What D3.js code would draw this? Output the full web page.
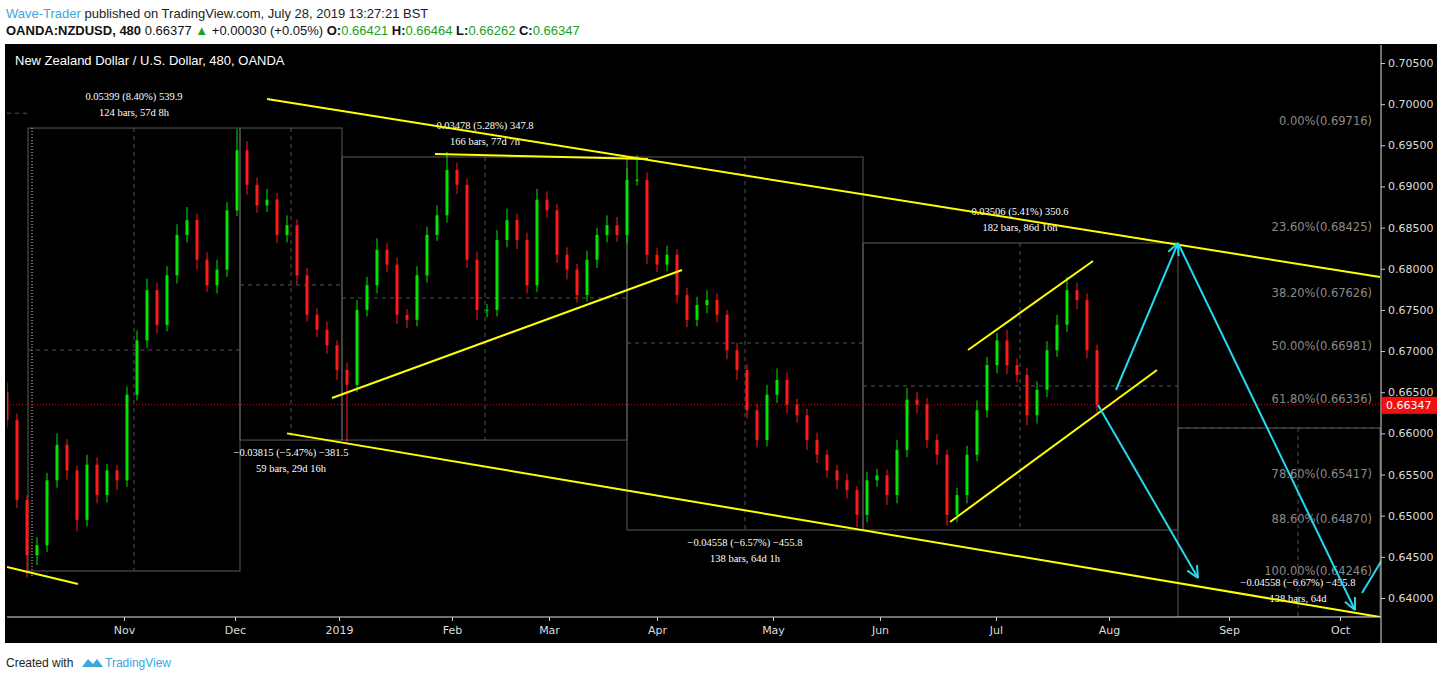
<!DOCTYPE html>
<html><head><meta charset="utf-8">
<script src="https://cdn.jsdelivr.net/npm/d3@7"></script>
<style>body{margin:0;background:#fff;}svg{display:block;}</style>
</head><body>
<svg id="c" width="1444" height="680"></svg>
<script>
// ---- data (bar index ~ one sampled candle, price) ----
const closes = [0.6616,0.6519,0.6452,0.6464,0.6543,0.6586,0.6555,0.6495,0.6562,0.6525,
0.6555,0.6543,0.6647,0.6713,0.6774,0.6732,0.6792,0.6841,0.6859,0.6811,
0.6780,0.6799,0.6871,0.6944,0.6902,0.6877,0.6884,0.6841,0.6853,0.6792,
0.6744,0.6726,0.6707,0.6677,0.6659,0.6750,0.6780,0.6823,0.6805,0.6744,
0.6738,0.6792,0.6841,0.6865,0.6920,0.6902,0.6811,0.6750,0.6750,0.6835,
0.6859,0.6835,0.6780,0.6884,0.6871,0.6817,0.6799,0.6768,0.6811,0.6841,
0.6853,0.6841,0.6908,0.6908,0.6817,0.6805,0.6817,0.6768,0.6738,0.6756,
0.6762,0.6744,0.6701,0.6677,0.6628,0.6592,0.6647,0.6665,0.6635,0.6622,
0.6592,0.6574,0.6555,0.6543,0.6531,0.6501,0.6543,0.6549,0.6525,0.6580,
0.6641,0.6635,0.6592,0.6574,0.6501,0.6525,0.6574,0.6628,0.6683,0.6713,
0.6683,0.6671,0.6622,0.6653,0.6701,0.6732,0.6774,0.6762,0.6701,0.66347];
const firstOpen = 0.6650;
const wickUp = [12,8,6,10,9,14,7,6,12,9, 8,7,10,12,14,9,11,13,16,8, 9,12,10,26,11,9,13,8,12,7,
9,8,10,6,9,12,10,14,8,9, 7,11,10,12,22,9,8,10,7,12, 14,8,9,13,10,8,9,7,11,9, 12,10,14,30,9,8,11,7,9,10,
12,8,6,9,7,8,12,14,9,7, 8,9,6,7,8,5,10,8,7,12, 14,9,8,7,6,9,11,12,10,9, 13,8,9,10,11,12,16,9,8,7];
const wickDn = [9,10,27,12,8,9,11,14,8,10, 9,12,8,7,9,11,8,10,9,12, 8,10,9,7,12,9,8,10,9,11,
8,9,10,12,70,9,8,10,9,11, 10,8,9,7,9,11,10,12,9,8, 9,11,10,8,9,10,12,9,8,10, 9,8,10,7,11,9,8,10,9,8,
10,9,11,12,10,9,8,10,11,9, 12,10,9,11,10,15,9,8,12,10, 9,11,10,12,13,9,10,8,9,10, 11,9,12,10,9,8,9,11,10,9];
const priceTicks = [0.640,0.645,0.650,0.655,0.660,0.665,0.670,0.675,0.680,0.685,0.690,0.695,0.700,0.705];
const monthLabels = ["Nov","Dec","2019","Feb","Mar","Apr","May","Jun","Jul","Aug","Sep","Oct"];
const monthIdx = [11.7,22.8,33.2,44.5,54.2,65,76.6,87.3,98.9,110.2,122.2,133.3];
const fibLabels = ["0.00%(0.69716)","23.60%(0.68425)","38.20%(0.67626)","50.00%(0.66981)","61.80%(0.66336)","78.60%(0.65417)","88.60%(0.64870)","100.00%(0.64246)"];
const fibPrices = [0.69716,0.68425,0.67626,0.66981,0.66336,0.65417,0.64870,0.64246];
const yellowLines = [[26,0.70063,137.3,0.67900],[28,0.66000,137.3,0.63769],[0,0.64376,7.1,0.64170],
 [32.5,0.66430,67.5,0.67985],[42.8,0.69394,64.1,0.69334],[96.1,0.67013,108.6,0.68094],[94.3,0.64923,115,0.66770]];
const cyanLines = [[110.9,0.66527,117.1,0.68313,1],[117.1,0.68313,134.8,0.63854,1],[109.1,0.66345,119.1,0.64243,1],[135.5,0.6406,137.5,0.64462,0]];
const boxes = [
 [2.1,23.3,0.69710,0.64328,12.7,0.67013,"0.05399 (8.40%) 539.9","124 bars, 57d 8h","top"],
 [23.3,33.5,0.69710,0.65919,28.4,0.67803,"\u22120.03815 (\u22125.47%) \u2212381.5","59 bars, 29d 16h","bottom"],
 [33.5,62,0.69358,0.65919,47.8,0.67645,"0.03478 (5.28%) 347.8","166 bars, 77d 7h","top"],
 [62,85.6,0.69358,0.64826,73.8,0.67098,"\u22120.04558 (\u22126.57%) \u2212455.8","138 bars, 64d 1h","bottom"],
 [85.6,117.1,0.68313,0.64826,101.3,0.66576,"0.03506 (5.41%) 350.6","182 bars, 86d 16h","top"],
 [117.1,137.3,0.66065,0.63769,129.1,0.66065,"\u22120.04558 (\u22126.67%) \u2212455.8","138 bars, 64d","inside"]];
const lastPrice = 0.66347;

// ---- chart ----
const svg = d3.select("#c");
const L=7, R=1381, T=45, B=617;
const x = d3.scaleLinear().domain([0,137.4]).range([L,R]);
const y = d3.scaleLinear().domain([0.640,0.705]).range([598,63]);
const SANS = "Liberation Sans";

svg.append("rect").attr("x",5).attr("y",44).attr("width",1432).attr("height",599).attr("fill","#000");
const g = svg.append("g");
g.append("clipPath").attr("id","clip").append("rect").attr("x",L).attr("y",T).attr("width",R-L).attr("height",B-T);
const plot = g.append("g").attr("clip-path","url(#clip)");

boxes.forEach(b=>{
  const x0=x(b[0]),x1=x(b[1]),y0=y(b[2]),y1=y(b[3]);
  plot.append("rect").attr("x",x0).attr("y",y0).attr("width",x1-x0).attr("height",y1-y0)
    .attr("fill","none").attr("stroke","#5a5a5a").attr("stroke-width",1);
  plot.append("line").attr("x1",x(b[4])).attr("x2",x(b[4])).attr("y1",y0).attr("y2",y1)
    .attr("stroke","#555").attr("stroke-dasharray","4,4");
  plot.append("line").attr("x1",x0).attr("x2",x1).attr("y1",y(b[5])).attr("y2",y(b[5]))
    .attr("stroke","#555").attr("stroke-dasharray","4,4");
  let ly;
  if(b[8]==="top") ly=y0-28; else if(b[8]==="bottom") ly=y1+16; else ly=y1-31;
  const cx=x(b[4]);
  [b[6],b[7]].forEach((t,k)=>plot.append("text").attr("x",cx).attr("y",ly+k*16).attr("text-anchor","middle")
    .attr("font-family","Liberation Serif").attr("font-size",10.5).attr("fill","#fff").text(t));
});
plot.append("line").attr("x1",x(2.5)).attr("x2",x(2.5)).attr("y1",y(0.6971)).attr("y2",y(0.6425))
  .attr("stroke","#ccc").attr("stroke-dasharray","1,2");
plot.append("line").attr("x1",L).attr("x2",x(2.1)).attr("y1",y(0.6989)).attr("y2",y(0.6989))
  .attr("stroke","#555").attr("stroke-dasharray","4,4");

plot.append("line").attr("x1",L).attr("x2",R).attr("y1",y(lastPrice)).attr("y2",y(lastPrice))
  .attr("stroke","#e00").attr("stroke-dasharray","1,2");

const candles = closes.map((c,i)=>{
  const o = i===0?firstOpen:closes[i-1];
  return {i,o,c,h:Math.max(o,c)+wickUp[i]/10000,l:Math.min(o,c)-wickDn[i]/10000};
});
const cg = plot.append("g");
candles.forEach(d=>{
  const col = d.c>=d.o?"#00e600":"#ff1a1a";
  cg.append("line").attr("x1",x(d.i)).attr("x2",x(d.i)).attr("y1",y(d.h)).attr("y2",y(d.l)).attr("stroke",col).attr("stroke-width",1);
  cg.append("rect").attr("x",x(d.i)-1.5).attr("width",3).attr("y",y(Math.max(d.o,d.c)))
    .attr("height",Math.max(1,Math.abs(y(d.o)-y(d.c)))).attr("fill",col);
});

fibLabels.forEach((t,k)=>plot.append("text").attr("x",1372).attr("y",y(fibPrices[k])-3).attr("text-anchor","end")
  .attr("font-family","DejaVu Sans").attr("font-size",11.5).attr("fill","#8a8a8a").text(t));

yellowLines.forEach(l=>plot.append("line").attr("x1",x(l[0])).attr("y1",y(l[1])).attr("x2",x(l[2])).attr("y2",y(l[3]))
  .attr("stroke","#ffff00").attr("stroke-width",2));
cyanLines.forEach(l=>{
  const x1=x(l[0]),y1=y(l[1]),x2=x(l[2]),y2=y(l[3]);
  plot.append("line").attr("x1",x1).attr("y1",y1).attr("x2",x2).attr("y2",y2).attr("stroke","#25d9f0").attr("stroke-width",2);
  if(l[4]){
    const a=Math.atan2(y2-y1,x2-x1), s=13;
    [a+2.7,a-2.7].forEach(b=>plot.append("line").attr("x1",x2).attr("y1",y2)
      .attr("x2",x2+s*Math.cos(b)).attr("y2",y2+s*Math.sin(b)).attr("stroke","#25d9f0").attr("stroke-width",2));
  }
});

svg.append("line").attr("x1",R).attr("x2",R).attr("y1",T).attr("y2",643).attr("stroke","#ddd");
svg.append("line").attr("x1",L).attr("x2",R).attr("y1",B).attr("y2",B).attr("stroke","#ddd");
const ya = svg.append("g").attr("transform",`translate(${R},0)`)
  .call(d3.axisRight(y).tickValues(priceTicks).tickFormat(d3.format(".5f")).tickSize(4).tickPadding(3));
ya.select(".domain").remove();
ya.selectAll("line").attr("stroke","#ccc");
ya.selectAll("text").attr("fill","#ddd").attr("font-family","DejaVu Sans").attr("font-size",11);
const xa = svg.append("g").attr("transform",`translate(0,${B})`)
  .call(d3.axisBottom(x).tickValues(monthIdx).tickFormat((d,i)=>monthLabels[i]).tickSize(4).tickPadding(5));
xa.select(".domain").remove();
xa.selectAll("line").attr("stroke","#ccc");
xa.selectAll("text").attr("fill","#ddd").attr("font-family","DejaVu Sans").attr("font-size",11);

svg.append("rect").attr("x",R+1).attr("y",y(lastPrice)-8).attr("width",55).attr("height",17).attr("fill","#f01010");
svg.append("text").attr("x",R+5).attr("y",y(lastPrice)+4).attr("fill","#fff").attr("font-family","DejaVu Sans").attr("font-size",11).text("0.66347");

svg.append("text").attr("x",15).attr("y",65).attr("fill","#fff").attr("font-family",SANS).attr("font-size",13)
  .text("New Zealand Dollar / U.S. Dollar, 480, OANDA");
const h1 = svg.append("text").attr("x",6).attr("y",18).attr("font-family",SANS).attr("font-size",13).attr("fill","#222");
h1.append("tspan").attr("fill","#3ba7dd").text("Wave-Trader");
h1.append("tspan").text(" published on TradingView.com, July 28, 2019 13:27:21 BST");
const h2 = svg.append("text").attr("x",6).attr("y",35).attr("font-family",SANS).attr("font-size",13).attr("fill","#111");
h2.append("tspan").attr("font-weight","bold").text("OANDA:NZDUSD, 480");
h2.append("tspan").text(" 0.66377 ");
h2.append("tspan").attr("fill","#20a020").text("\u25B2");
h2.append("tspan").text(" +0.00030 (+0.05%) ");
[["O:","0.66421"],["H:","0.66464"],["L:","0.66262"],["C:","0.66347"]].forEach(p=>{
  h2.append("tspan").attr("font-weight","bold").text(p[0]);
  h2.append("tspan").attr("fill","#20a020").text(p[1]+" ");
});
const f = svg.append("text").attr("x",6).attr("y",667).attr("font-family",SANS).attr("font-size",12).attr("fill","#222");
f.append("tspan").text("Created with ");
svg.append("path").attr("d","M82,667 l6,-8 l5,5 l4,-5 l6,8 z").attr("fill","#3ba7dd");
svg.append("text").attr("x",105).attr("y",667).attr("font-family",SANS).attr("font-size",12).attr("fill","#3ba7dd").text("TradingView");
</script>
</body></html>
